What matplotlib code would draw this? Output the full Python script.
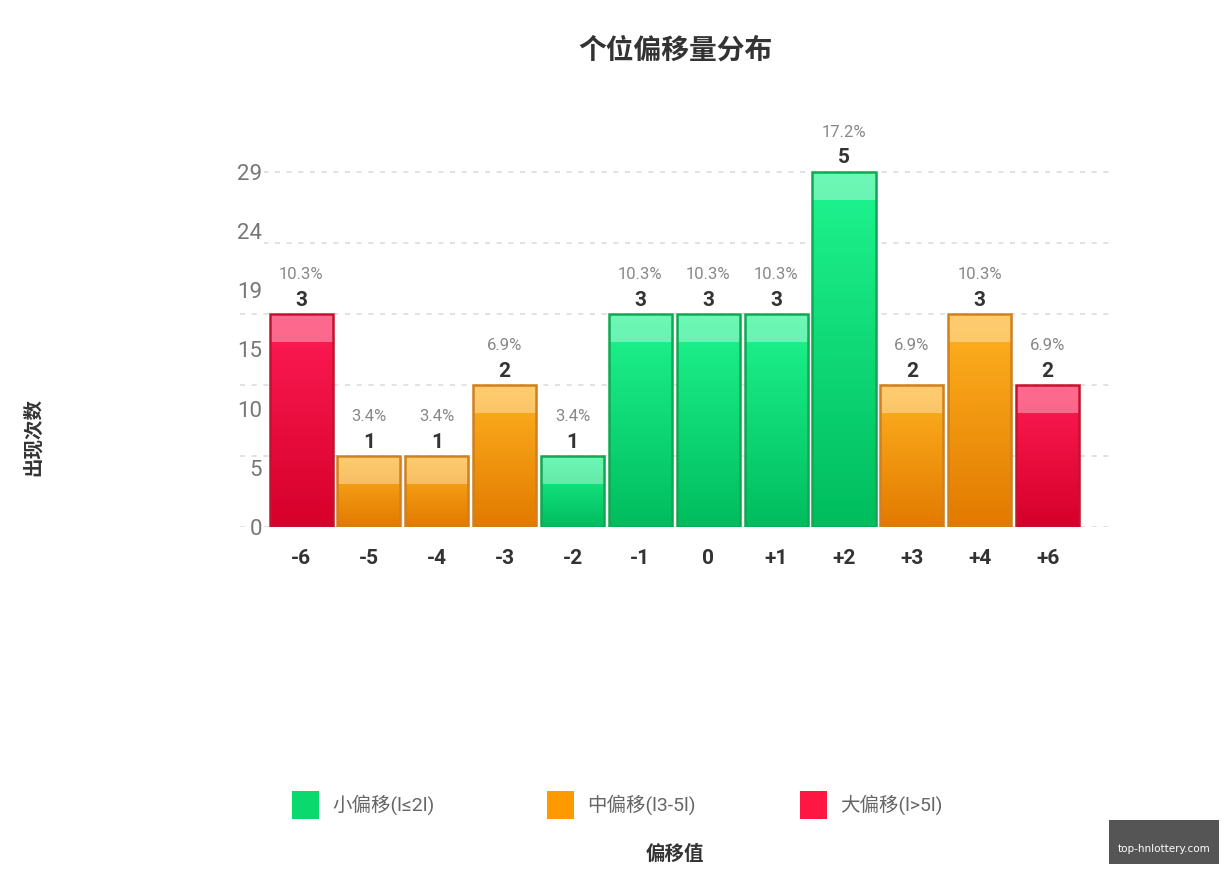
import matplotlib
matplotlib.use("Agg")
import matplotlib.pyplot as plt
import numpy as np
from matplotlib.colors import LinearSegmentedColormap
from matplotlib.patches import Rectangle

FAM = ['Roboto', 'Noto Sans CJK SC', 'DejaVu Sans']
CJK = ['Noto Sans CJK SC', 'DejaVu Sans']
plt.rcParams['font.family'] = FAM

# ---- data ----
categories = ["-6", "-5", "-4", "-3", "-2", "-1", "0", "+1", "+2", "+3", "+4", "+6"]
counts = [3, 1, 1, 2, 1, 3, 3, 3, 5, 2, 3, 2]
groups = ["large", "mid", "mid", "mid", "small", "small", "small", "small", "small", "mid", "mid", "large"]
ytick_labels = ["0", "5", "10", "15", "19", "24", "29"]
legend_labels = {"small": "小偏移(l≤2l)", "mid": "中偏移(l3-5l)", "large": "大偏移(l>5l)"}
title = "个位偏移量分布"
xlabel = "偏移值"
ylabel = "出现次数"

# styles
grad = {
    "small": ("#1ff590", "#00bd5e", "#10a851"),
    "mid": ("#ffb321", "#e27a00", "#d0801e"),
    "large": ("#ff1c55", "#d6002a", "#c5122e"),
}
legend_color = {"small": "#0ad96e", "mid": "#ff9900", "large": "#ff1744"}

W, H = 1230, 875
fig = plt.figure(figsize=(W / 100, H / 100), dpi=100)
ymax = 5.6
ax = fig.add_axes([240 / W, (H - 527) / H, (1110 - 240) / W, (527 - 129) / H])
n = len(categories)
x = np.arange(n)
ax.set_xlim(-0.9, n - 1 + 0.92)
ax.set_ylim(0, ymax)

top = max(counts)
yt = [top * i / 6 for i in range(7)]
for gy in range(0, top + 1):
    ax.axhline(gy, color="#dddddd", linestyle=(0, (3, 4)), linewidth=1.2, zorder=0.5)
ax.set_yticks(yt)
ax.set_yticklabels(ytick_labels, fontsize=16, color="#777777")
for lbl in ax.get_yticklabels():
    lbl.set_bbox(dict(facecolor="white", edgecolor="none", pad=1))
    lbl.set_zorder(1)
ax.set_xticks(x)
ax.set_xticklabels(categories, fontsize=15, fontweight="bold", color="#333333")
ax.tick_params(axis="y", length=0, pad=-16)
ax.tick_params(axis="x", length=0, pad=16)
for s in ax.spines.values():
    s.set_visible(False)
ax.set_axisbelow(False)

bw = 0.93
px_per_unit = (527 - 172) / 5.0
band = 28 / px_per_unit
total = sum(counts)
for xi, v, g in zip(x, counts, groups):
    c_top, c_bot, c_edge = grad[g]
    cmap = LinearSegmentedColormap.from_list("g", [c_bot, c_top])
    ax.add_patch(Rectangle((xi - bw / 2 + 0.03, 0), bw, v - 0.02, facecolor="#000000", alpha=0.06,
                           edgecolor="none", zorder=2))
    bars = ax.bar(xi, v, width=bw, color="none", edgecolor=c_edge, linewidth=1.8, zorder=4)
    im = ax.imshow(np.linspace(0, 1, 100).reshape(-1, 1), cmap=cmap, origin="lower", aspect="auto",
                   extent=(xi - bw / 2, xi + bw / 2, 0, v), zorder=3)
    im.set_clip_path(bars[0])
    ax.add_patch(Rectangle((xi - bw / 2, v - band), bw, band, facecolor="white", alpha=0.35,
                           edgecolor="none", zorder=3.5))
    ax.annotate(str(v), (xi, v), xytext=(0, 3), textcoords="offset points", ha="center", va="bottom",
                fontsize=15, fontweight="bold", color="#333333", zorder=5)
    ax.annotate(f"{v / total * 100:.1f}%", (xi, v), xytext=(0, 23), textcoords="offset points",
                ha="center", va="bottom", fontsize=12, color="#888888", zorder=5)

fig.text(675 / W, 1 - 51 / H, title, ha="center", va="center", fontsize=20, fontweight="bold",
         color="#333333", family=CJK)
fig.text(675 / W, 1 - 854 / H, xlabel, ha="center", va="center", fontsize=14, fontweight="bold",
         color="#333333", family=CJK)
fig.text(33 / W, 1 - 437 / H, ylabel, ha="center", va="center", rotation=90, fontsize=14,
         fontweight="bold", color="#333333", family=CJK)

# legend
lx = [292, 547, 800]
for px, g in zip(lx, ["small", "mid", "large"]):
    fig.patches.append(Rectangle((px / W, 1 - 819 / H), 27 / W, 28 / H, transform=fig.transFigure,
                                 facecolor=legend_color[g], edgecolor="none"))
    fig.text((px + 40) / W, 1 - 805 / H, legend_labels[g], ha="left", va="center", fontsize=14,
             color="#666666")

# watermark box
fig.patches.append(Rectangle((1109 / W, 1 - 864 / H), 110 / W, 44 / H, transform=fig.transFigure,
                             facecolor="#555555", edgecolor="none"))
fig.text(1164 / W, 1 - 849 / H, "top-hnlottery.com", ha="center", va="center", fontsize=7.5,
         color="white", family=["DejaVu Sans"])

fig.savefig("out.png", dpi=100, facecolor="white")
